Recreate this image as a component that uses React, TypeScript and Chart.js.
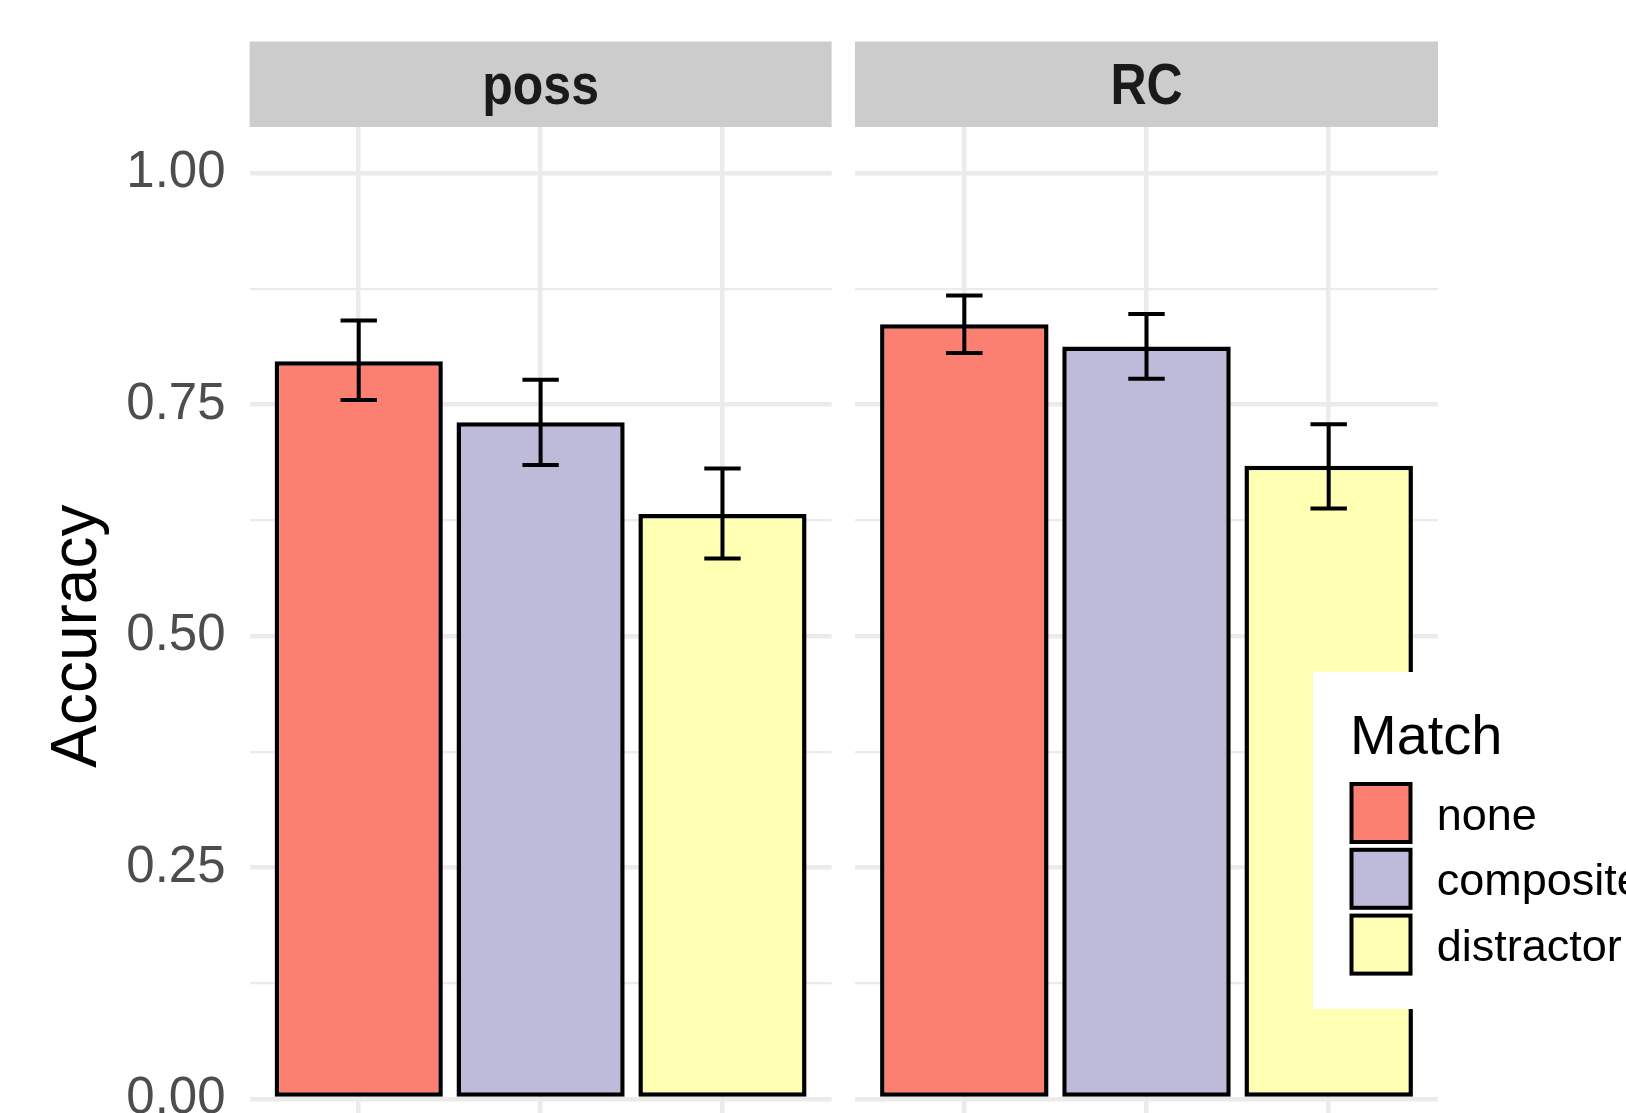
import React, { useEffect, useRef } from 'react';
import { Chart, registerables } from 'chart.js';

Chart.register(...registerables);

// ---------- data ----------
const matchLevels = ['none', 'composite', 'distractor'];
const matchColors = ['#FB8072', '#BEBADA', '#FFFFB3'];
const panelNames = ['poss', 'RC'];

const possAccuracy = [0.797, 0.731, 0.632];
const possLower = [0.755, 0.685, 0.584];
const possUpper = [0.841, 0.777, 0.681];

const rcAccuracy = [0.837, 0.813, 0.684];
const rcLower = [0.806, 0.778, 0.638];
const rcUpper = [0.868, 0.848, 0.729];

const yMajorTicks = [0, 0.25, 0.5, 0.75, 1.0];
const yTickLabels = ['0.00', '0.25', '0.50', '0.75', '1.00'];
const yMinorTicks = [0.125, 0.375, 0.625, 0.875];

const yAxisTitle = 'Accuracy';
const legendTitle = 'Match';

// ---------- layout constants ----------
const W = 1626;
const VIEW_H = 1113;
const H = 1200;
const FONT = "'Liberation Sans', Arial, Helvetica, sans-serif";
const BAR_BORDER = 4.5;

const stripPlugin = {
  id: 'strip',
  afterDraw(chart: any, _args: any, opts: any) {
    const { ctx, chartArea } = chart;
    ctx.save();
    ctx.fillStyle = '#CCCCCC';
    ctx.fillRect(chartArea.left, chartArea.top - opts.height, chartArea.right - chartArea.left, opts.height);
    ctx.fillStyle = '#1A1A1A';
    ctx.font = `bold 50px ${FONT}`;
    ctx.textAlign = 'center';
    ctx.textBaseline = 'alphabetic';
    const cx = (chartArea.left + chartArea.right) / 2;
    const baseY = chartArea.top - 23.5;
    ctx.translate(cx, baseY);
    ctx.scale(1, 1.15);
    ctx.fillText(opts.text, 0, 0);
    ctx.restore();
  },
};

function makeErrorBarPlugin(lower: number[], upper: number[]) {
  return {
    id: 'errorBars',
    afterDatasetsDraw(chart: any) {
      const meta = chart.getDatasetMeta(0);
      const xScale = chart.scales.x;
      const yScale = chart.scales.y;
      const ctx = chart.ctx;
      const unit = xScale.getPixelForValue(1) - xScale.getPixelForValue(0);
      const hw = unit * 0.1; // cap width = 0.2 of a category unit
      ctx.save();
      ctx.strokeStyle = '#000000';
      ctx.lineWidth = 4;
      ctx.lineCap = 'butt';
      meta.data.forEach((bar: any, i: number) => {
        const x = bar.x;
        const yl = yScale.getPixelForValue(lower[i]);
        const yh = yScale.getPixelForValue(upper[i]);
        ctx.beginPath();
        ctx.moveTo(x, yl);
        ctx.lineTo(x, yh);
        ctx.moveTo(x - hw, yl);
        ctx.lineTo(x + hw, yl);
        ctx.moveTo(x - hw, yh);
        ctx.lineTo(x + hw, yh);
        ctx.stroke();
      });
      ctx.restore();
    },
  };
}

const legendPlugin = {
  id: 'matchLegend',
  afterDraw(chart: any) {
    const ctx = chart.ctx;
    ctx.save();
    ctx.fillStyle = '#FFFFFF';
    ctx.fillRect(1313, 672, W - 1313, 337);
    ctx.fillStyle = '#000000';
    ctx.font = `56px ${FONT}`;
    ctx.textAlign = 'left';
    ctx.textBaseline = 'alphabetic';
    ctx.fillText(legendTitle, 1350, 754);
    matchLevels.forEach((lab, i) => {
      const top = 782 + i * 65.8;
      ctx.fillStyle = matchColors[i];
      ctx.fillRect(1351.5, top + 2, 59, 58);
      ctx.lineWidth = 4;
      ctx.strokeStyle = '#000000';
      ctx.strokeRect(1351.5, top + 2, 59, 58);
      ctx.fillStyle = '#000000';
      ctx.font = `45px ${FONT}`;
      ctx.fillText(lab, 1436.7, top + 47.5);
    });
    ctx.restore();
  },
};

function makeConfig(panelIdx: number): any {
  const isLeft = panelIdx === 0;
  const values = isLeft ? possAccuracy : rcAccuracy;
  const lower = isLeft ? possLower : rcLower;
  const upper = isLeft ? possUpper : rcUpper;
  const gridValues = [...yMajorTicks, ...yMinorTicks].sort((a, b) => a - b);
  const panelRight = isLeft ? 831.6 : 1438;
  const unitPx = 582 / (matchLevels.length + 0.2);
  return {
    type: 'bar',
    data: {
      labels: matchLevels,
      datasets: [
        {
          label: panelNames[panelIdx],
          data: values,
          backgroundColor: matchColors,
          borderColor: '#000000',
          borderWidth: BAR_BORDER,
          borderSkipped: false,
          // 0.9 of a category, plus the outline drawn centred on the edge
          barPercentage: 0.9 + BAR_BORDER / unitPx,
          categoryPercentage: 1.0,
        },
      ],
    },
    options: {
      responsive: false,
      animation: false,
      devicePixelRatio: 1,
      events: [],
      layout: {
        padding: {
          top: 127,
          bottom: H - 1145.3,
          left: 0,
          right: W - panelRight,
        },
      },
      plugins: {
        legend: { display: false },
        tooltip: { enabled: false },
        strip: { text: panelNames[panelIdx], height: 85.5 },
      },
      scales: {
        x: {
          type: 'category',
          offset: true,
          grid: { offset: false, color: '#EBEBEB', lineWidth: 4.5, drawTicks: false },
          border: { display: false },
          ticks: { display: false },
          afterBuildTicks: (s: any) => {
            s._startValue = -0.6;
            s._valueRange = matchLevels.length + 0.2;
          },
          afterFit: (s: any) => {
            s.height = 0;
          },
        },
        y: {
          type: 'linear',
          min: -0.05,
          max: 1.05,
          afterBuildTicks: (s: any) => {
            s.ticks = gridValues.map((v) => ({ value: v }));
          },
          ticks: {
            display: isLeft,
            padding: 24,
            color: '#4D4D4D',
            font: { family: FONT, size: 51 },
            callback: (v: number) => {
              const i = yMajorTicks.findIndex((t) => Math.abs(t - v) < 1e-9);
              return i >= 0 ? yTickLabels[i] : '';
            },
          },
          grid: {
            color: '#EBEBEB',
            lineWidth: (ctx: any) => {
              const v = ctx.tick ? ctx.tick.value : 0;
              return yMajorTicks.some((t) => Math.abs(t - v) < 1e-9) ? 4.5 : 2.2;
            },
            drawTicks: false,
          },
          border: { display: false },
          title: {
            display: isLeft,
            text: yAxisTitle,
            color: '#000000',
            font: { family: FONT, size: 64 },
            padding: { top: 40, bottom: 0 },
          },
          afterFit: (s: any) => {
            s.width = isLeft ? 249.6 : 855;
          },
        },
      },
    },
    plugins: [stripPlugin, makeErrorBarPlugin(lower, upper), ...(isLeft ? [] : [legendPlugin])],
  };
}

export default function App() {
  const ref1 = useRef<HTMLCanvasElement>(null);
  const ref2 = useRef<HTMLCanvasElement>(null);
  useEffect(() => {
    const c1 = new Chart(ref1.current as HTMLCanvasElement, makeConfig(0));
    const c2 = new Chart(ref2.current as HTMLCanvasElement, makeConfig(1));
    return () => {
      c1.destroy();
      c2.destroy();
    };
  }, []);
  const canvasStyle: React.CSSProperties = { position: 'absolute', left: 0, top: 0, width: W, height: H };
  return (
    <div
      style={{
        position: 'absolute',
        left: 0,
        top: 0,
        width: W,
        height: VIEW_H,
        overflow: 'hidden',
        background: '#FFFFFF',
      }}
    >
      <canvas ref={ref1} width={W} height={H} style={canvasStyle} />
      <canvas ref={ref2} width={W} height={H} style={canvasStyle} />
    </div>
  );
}
